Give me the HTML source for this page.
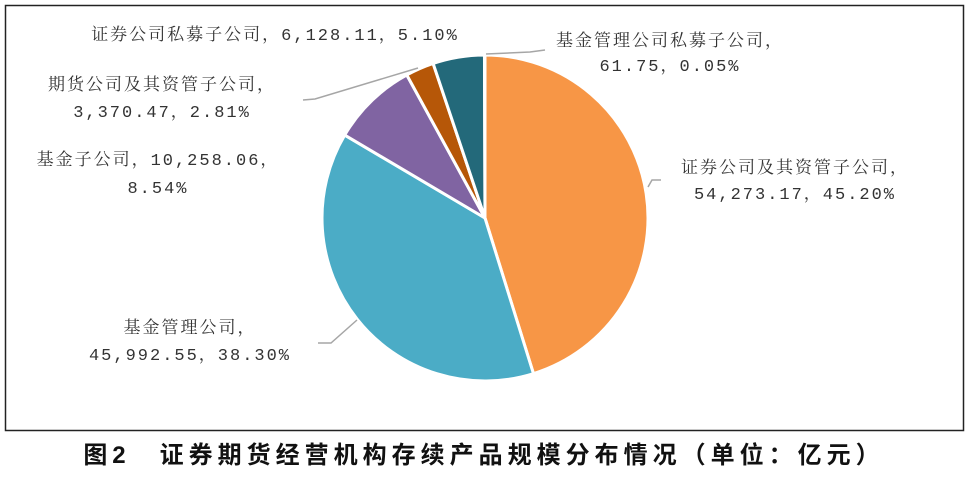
<!DOCTYPE html>
<html><head><meta charset="utf-8"><style>
body{margin:0;background:#fff;width:969px;height:473px;overflow:hidden}
svg text{font-family:"Liberation Mono","Noto Serif CJK SC",serif;font-size:17px;fill:#333;letter-spacing:2px}
</style></head><body>
<svg width="969" height="473">
<rect x="5.5" y="5.5" width="958" height="425" fill="#fff" stroke="#222" stroke-width="1.5"/>
<g id="slices"></g>
<g fill="none" stroke="#a6a6a6" stroke-width="1.5">
<polyline points="303,100 315,99 418,68"/>
<polyline points="318,343 331,343 357,320"/>
<polyline points="648,187 652,180 661,180"/>
<polyline points="486,54 530,52 545,50"/>
</g>
<g text-anchor="middle">
<text x="275" y="40">证券公司私募子公司，6,128.11，5.10%</text>
<text x="162" y="90">期货公司及其资管子公司，</text>
<text x="162" y="117">3,370.47，2.81%</text>
<text x="158" y="165">基金子公司，10,258.06，</text>
<text x="158" y="193">8.54%</text>
<text x="190" y="333">基金管理公司，</text>
<text x="190" y="360">45,992.55，38.30%</text>
<text x="795" y="173">证券公司及其资管子公司，</text>
<text x="795" y="199">54,273.17，45.20%</text>
<text x="670" y="46">基金管理公司私募子公司，</text>
<text x="670" y="71">61.75，0.05%</text>
</g>
<text x="484" y="463" text-anchor="middle" style="font-family:'Liberation Sans','Noto Sans CJK SC',sans-serif;font-size:24px;font-weight:bold;fill:#111;letter-spacing:5px">图2　证券期货经营机构存续产品规模分布情况（单位：亿元）</text>
</svg>
<script>
const categories=["证券公司及其资管子公司","基金管理公司","基金子公司","期货公司及其资管子公司","证券公司私募子公司","基金管理公司私募子公司"];
const values=[54273.17,45992.55,10258.06,3370.47,6128.11,61.75];
const colors=["#F79646","#4BACC6","#8064A2","#B65708","#23697A","#7f7f7f"];
const cx=485,cy=218,r=163;
const g=document.getElementById('slices');
const total=values.reduce((a,b)=>a+b,0);
let a0=0;
values.forEach((v,i)=>{
 const a1=a0+v/total*2*Math.PI;
 const p=(a)=>[cx+r*Math.sin(a),cy-r*Math.cos(a)];
 const [x0,y0]=p(a0),[x1,y1]=p(a1);
 const large=(a1-a0)>Math.PI?1:0;
 const path=document.createElementNS('http://www.w3.org/2000/svg','path');
 path.setAttribute('d',`M${cx},${cy}L${x0},${y0}A${r},${r} 0 ${large} 1 ${x1},${y1}Z`);
 path.setAttribute('fill',colors[i]);
 path.setAttribute('stroke','#fff');
 path.setAttribute('stroke-width','3');
 path.setAttribute('stroke-linejoin','round');
 
 
 g.appendChild(path);
 a0=a1;
});
</script>
</body></html>
